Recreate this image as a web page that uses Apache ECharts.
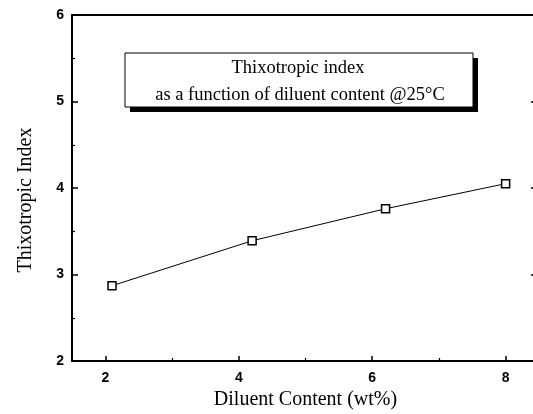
<!DOCTYPE html>
<html>
<head>
<meta charset="utf-8">
<script src="https://cdn.jsdelivr.net/npm/echarts@6/dist/echarts.min.js"></script>
<style>html,body{margin:0;padding:0;background:#fff;overflow:hidden;}#c{width:533px;height:414px;}</style>
</head>
<body>
<div id="c"></div>
<script>
// Data
var diluentContent = [2.1, 4.2, 6.2, 8.0];
var thixotropicIndex = [2.87, 3.39, 3.76, 4.05];
var xTickValues = [2, 4, 6, 8];
var xMinorTickValues = [3, 5, 7];
var xAxisTitle = 'Diluent Content (wt%)';
var yAxisTitle = 'Thixotropic Index';
var boxLine1 = 'Thixotropic index';
var boxLine2 = 'as a function of diluent content @25\u00B0C';

var seriesData = diluentContent.map(function (x, i) { return [x, thixotropicIndex[i]]; });
var chart = echarts.init(document.getElementById('c'), null, {renderer: 'canvas'});
var serif = '"Liberation Serif", "Times New Roman", serif';
var sans = '"Liberation Sans", Arial, sans-serif';

chart.setOption({
  animation: false,
  backgroundColor: '#fff',
  grid: {left: 72, top: 15, width: 467, height: 346, containLabel: false, outerBoundsMode: 'none'},
  xAxis: [{
    type: 'value', min: 1.5, max: 8.5, position: 'bottom',
    name: xAxisTitle, nameLocation: 'middle', nameGap: 27,
    nameTextStyle: {fontFamily: serif, fontSize: 20, color: '#000'},
    axisLine: {show: true, onZero: false, lineStyle: {color: '#000', width: 2}},
    axisTick: {show: true, inside: true, length: 5, customValues: xTickValues, lineStyle: {color: '#000', width: 1.5}},
    axisLabel: {show: true, customValues: xTickValues, margin: 10, fontFamily: sans, fontSize: 14, fontWeight: 'bold', color: '#000'},
    splitLine: {show: false}
  }, {
    type: 'value', min: 1.5, max: 8.5, position: 'bottom',
    axisLine: {show: false},
    axisTick: {show: true, inside: true, length: 3, customValues: xMinorTickValues, lineStyle: {color: '#000', width: 1.2}},
    axisLabel: {show: false},
    splitLine: {show: false}
  }, {
    type: 'value', min: 1.5, max: 8.5, position: 'top',
    axisLine: {show: true, onZero: false, lineStyle: {color: '#000', width: 2}},
    axisTick: {show: false},
    axisLabel: {show: false},
    splitLine: {show: false}
  }],
  yAxis: [{
    type: 'value', min: 2, max: 6, interval: 1, position: 'left',
    name: yAxisTitle, nameLocation: 'middle', nameGap: 36,
    nameTextStyle: {fontFamily: serif, fontSize: 20, color: '#000', padding: [0, 24, 0, 0]},
    axisLine: {show: true, onZero: false, lineStyle: {color: '#000', width: 2}},
    axisTick: {show: true, inside: true, length: 6, lineStyle: {color: '#000', width: 1.5}},
    minorTick: {show: true, splitNumber: 2, length: 3, lineStyle: {color: '#000', width: 1.2}},
    axisLabel: {show: true, margin: 8, fontFamily: sans, fontSize: 14, fontWeight: 'bold', color: '#000'},
    splitLine: {show: false}
  }, {
    type: 'value', min: 2, max: 6, interval: 1, position: 'right',
    axisLine: {show: true, onZero: false, lineStyle: {color: '#000', width: 2}},
    axisTick: {show: true, inside: true, length: 8, lineStyle: {color: '#000', width: 1.5}},
    axisLabel: {show: false},
    splitLine: {show: false}
  }],
  series: [{
    type: 'line',
    xAxisIndex: 0, yAxisIndex: 0,
    data: seriesData,
    symbol: 'rect', symbolSize: 8,
    lineStyle: {color: '#000', width: 1},
    itemStyle: {color: '#fff', borderColor: '#000', borderWidth: 1.5}
  }],
  graphic: [{
    type: 'group',
    children: [{
      type: 'rect',
      shape: {x: 130, y: 58, width: 348, height: 54},
      style: {fill: '#000', stroke: null}
    }, {
      type: 'rect',
      shape: {x: 125, y: 53, width: 348, height: 54},
      style: {fill: '#fff', stroke: '#000', lineWidth: 1}
    }, {
      type: 'text',
      style: {x: 298, y: 68, text: boxLine1, textAlign: 'center', textVerticalAlign: 'middle', font: '18.5px ' + serif, fill: '#000'}
    }, {
      type: 'text',
      style: {x: 300, y: 95, text: boxLine2, textAlign: 'center', textVerticalAlign: 'middle', font: '18.5px ' + serif, fill: '#000'}
    }]
  }]
});
</script>
</body>
</html>
